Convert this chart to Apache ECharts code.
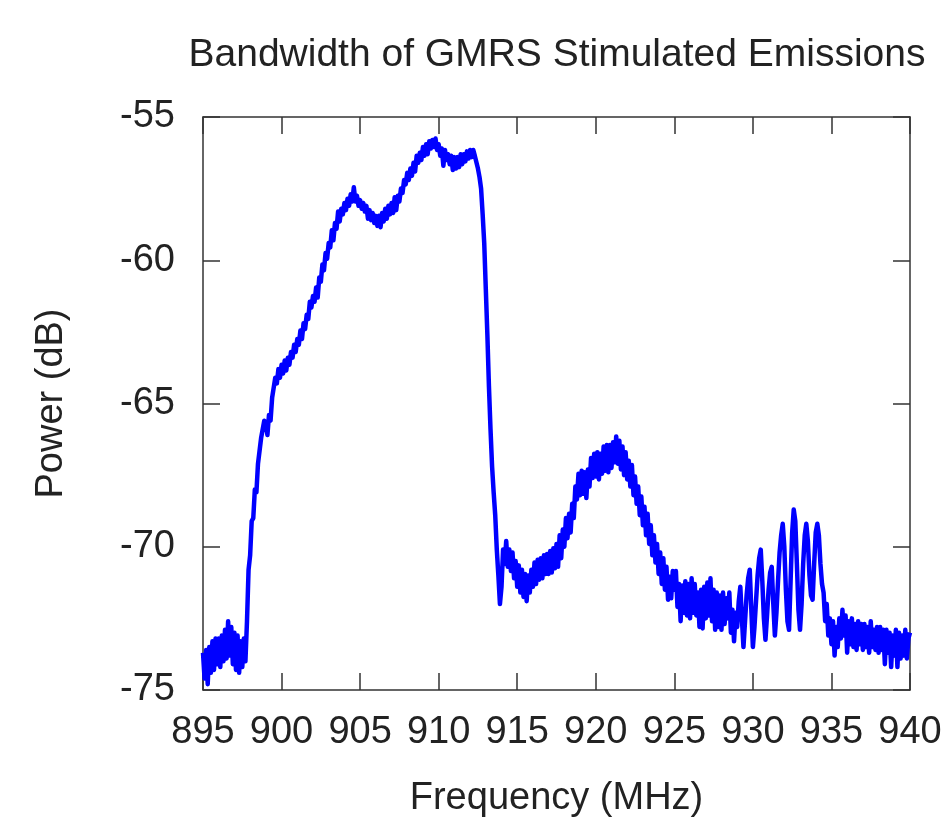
<!DOCTYPE html>
<html>
<head>
<meta charset="utf-8">
<script src="https://cdn.jsdelivr.net/npm/echarts@6/dist/echarts.min.js"></script>
<style>
html,body{margin:0;padding:0;background:#fff;}
#chart{width:942px;height:818px;}
</style>
</head>
<body>
<div id="chart"></div>
<script>
const titleText = "Bandwidth of GMRS Stimulated Emissions";
const xName = "Frequency (MHz)";
const yName = "Power (dB)";
const freqStart = 895;   // MHz, first sample
const freqStep = 0.1;    // MHz between samples
const power = [
-73.7,-74.6,-73.6,-74.8,-73.5,-74.4,-73.3,-74.3,-73.2,-74.1,
-73.2,-74.2,-73.1,-74.0,-72.9,-73.9,-72.6,-73.8,-72.8,-74.1,
-73.0,-74.3,-73.1,-74.4,-73.3,-74.2,-73.2,-74.0,-72.6,-70.8,
-70.3,-69.1,-69.0,-68.0,-68.1,-67.1,-67.1,-66.2,-66.2,-65.6,
-65.7,-66.1,-65.4,-65.6,-64.8,-64.8,-64.1,-64.3,-63.8,-64.1,
-63.65,-63.95,-63.5,-63.85,-63.4,-63.65,-63.2,-63.4,-62.95,-63.2,
-62.75,-62.95,-62.45,-62.75,-62.2,-62.4,-61.9,-62.05,-61.45,-61.65,
-61.25,-61.45,-60.95,-61.3,-60.6,-60.75,-60.15,-60.35,-59.75,-59.95,
-59.4,-59.55,-58.95,-59.3,-58.7,-58.9,-58.3,-58.65,-58.2,-58.4,
-58.0,-58.25,-57.85,-58.1,-57.7,-57.95,-57.45,-57.95,-57.75,-58.1,
-57.9,-58.2,-58.0,-58.3,-58.1,-58.55,-58.25,-58.6,-58.35,-58.7,
-58.45,-58.8,-58.45,-58.85,-58.35,-58.65,-58.2,-58.55,-58.1,-58.4,
-58.0,-58.35,-57.8,-58.25,-57.75,-57.95,-57.5,-57.65,-57.2,-57.35,
-56.95,-57.2,-56.8,-57.05,-56.6,-56.9,-56.35,-56.6,-56.25,-56.5,
-56.05,-56.35,-55.95,-56.3,-55.85,-56.1,-55.8,-56.05,-55.75,-56.15,
-55.95,-56.35,-56.1,-56.7,-56.15,-56.5,-56.3,-56.65,-56.35,-56.85,
-56.4,-56.8,-56.4,-56.75,-56.3,-56.65,-56.3,-56.55,-56.2,-56.45,
-56.15,-56.4,-56.15,-56.35,-56.3,-56.8,-57.1,-57.5,-58.4,-59.4,
-61.0,-62.6,-64.4,-65.9,-67.2,-68.1,-68.9,-70.1,-71.0,-72.0,
-71.4,-70.1,-70.6,-69.8,-70.7,-70.1,-70.85,-70.2,-71.1,-70.5,
-71.4,-70.65,-71.6,-70.8,-71.75,-70.95,-71.9,-71.0,-71.6,-70.8,
-71.4,-70.55,-71.3,-70.45,-71.15,-70.4,-71.1,-70.3,-70.95,-70.25,
-70.95,-70.15,-70.9,-70.05,-70.75,-69.9,-70.7,-69.6,-70.4,-69.4,
-70.0,-69.0,-69.7,-68.85,-69.5,-68.5,-69.0,-67.9,-68.35,-67.45,
-68.2,-67.35,-68.15,-67.4,-68.3,-67.3,-67.9,-66.9,-67.6,-66.75,
-67.55,-66.7,-67.65,-66.75,-67.45,-66.5,-67.35,-66.45,-67.4,-66.45,
-67.25,-66.35,-67.05,-66.15,-67.1,-66.3,-67.3,-66.5,-67.5,-66.7,
-67.65,-67.0,-67.9,-67.15,-68.2,-67.55,-68.5,-67.9,-68.9,-68.25,
-69.25,-68.6,-69.6,-68.85,-69.9,-69.25,-70.3,-69.6,-70.55,-69.9,
-70.95,-70.2,-71.3,-70.4,-71.5,-70.7,-71.85,-71.05,-71.8,-70.85,
-71.5,-70.85,-72.1,-71.3,-72.6,-71.35,-72.3,-71.2,-72.4,-71.3,
-72.5,-71.1,-72.3,-71.3,-72.4,-71.6,-72.8,-71.5,-72.85,-71.4,
-72.5,-71.25,-72.4,-71.1,-72.6,-71.5,-72.9,-71.6,-72.8,-71.7,
-72.9,-71.6,-72.7,-71.8,-72.5,-71.6,-73.0,-72.2,-73.3,-72.3,
-72.8,-71.9,-71.4,-72.5,-73.5,-72.6,-71.7,-71.1,-70.8,-72.2,
-73.5,-72.8,-71.9,-71.0,-70.4,-70.1,-71.2,-72.5,-73.25,-72.4,
-71.5,-70.9,-70.7,-72.0,-73.1,-72.3,-71.2,-70.2,-69.6,-69.2,
-70.0,-71.5,-72.6,-72.9,-71.2,-69.5,-68.7,-69.1,-70.6,-72.2,
-72.9,-72.0,-70.6,-69.6,-69.2,-69.8,-71.0,-71.7,-71.85,-70.6,
-69.5,-69.2,-69.6,-70.6,-71.3,-71.6,-72.6,-72.0,-73.1,-72.5,
-73.4,-72.6,-73.8,-72.8,-73.5,-72.5,-73.2,-72.2,-73.1,-72.4,
-73.7,-72.6,-73.4,-72.5,-73.5,-72.7,-73.6,-72.6,-73.4,-72.7,
-73.6,-72.7,-73.5,-72.8,-73.7,-72.6,-73.5,-72.9,-73.6,-72.8,
-73.7,-72.8,-73.6,-72.9,-74.1,-72.9,-73.7,-73.0,-74.2,-73.1,
-73.8,-72.9,-74.2,-73.0,-73.9,-73.1,-73.8,-72.9,-73.9,-73.2,
-73.0
];
const xMin = 895, xMax = 940, xInterval = 5;
const yMin = -75, yMax = -55, yInterval = 5;

const seriesData = power.map((v, i) => [Math.round((freqStart + i * freqStep) * 100) / 100, v]);

const FONT = '"Liberation Sans", Arial, sans-serif';
const axisLineStyle = { color: '#333', width: 1.5 };
const tickStyle = { show: true, inside: true, length: 17, lineStyle: { color: '#333', width: 1.5 } };
const labelFont = { fontFamily: FONT, fontSize: 38, color: '#222' };

const chart = echarts.init(document.getElementById('chart'), null, { renderer: 'canvas' });
chart.setOption({
  animation: false,
  backgroundColor: '#fff',
  title: {
    text: titleText,
    left: 552, top: 31, textAlign: 'center',
    textStyle: { fontFamily: FONT, fontSize: 39, fontWeight: 'normal', color: '#222' }
  },
  grid: { left: 203, right: 32, top: 117, bottom: 128, containLabel: false, outerBoundsMode: 'none' },
  xAxis: [{
    type: 'value', min: xMin, max: xMax, interval: xInterval, position: 'bottom',
    name: xName, nameLocation: 'middle', nameGap: 90,
    nameTextStyle: labelFont,
    axisLine: { show: true, onZero: false, lineStyle: axisLineStyle },
    axisTick: tickStyle,
    axisLabel: Object.assign({ margin: 24 }, labelFont),
    splitLine: { show: false }
  }, {
    type: 'value', min: xMin, max: xMax, interval: xInterval, position: 'top',
    axisLine: { show: true, onZero: false, lineStyle: axisLineStyle },
    axisTick: tickStyle, axisLabel: { show: false }, splitLine: { show: false }
  }],
  yAxis: [{
    type: 'value', min: yMin, max: yMax, interval: yInterval, position: 'left',
    name: yName, nameLocation: 'middle', nameGap: 132, nameRotate: 90,
    nameTextStyle: labelFont,
    axisLine: { show: true, onZero: false, lineStyle: axisLineStyle },
    axisTick: tickStyle,
    axisLabel: Object.assign({ margin: 28 }, labelFont),
    splitLine: { show: false }
  }, {
    type: 'value', min: yMin, max: yMax, interval: yInterval, position: 'right',
    axisLine: { show: true, onZero: false, lineStyle: axisLineStyle },
    axisTick: tickStyle, axisLabel: { show: false }, splitLine: { show: false }
  }],
  series: [{
    type: 'line', xAxisIndex: 0, yAxisIndex: 0,
    data: seriesData, showSymbol: false, sampling: null,
    lineStyle: { color: '#0000ff', width: 4.5, join: 'round' },
    itemStyle: { color: '#0000ff' },
    z: 1
  }]
});
</script>
</body>
</html>
